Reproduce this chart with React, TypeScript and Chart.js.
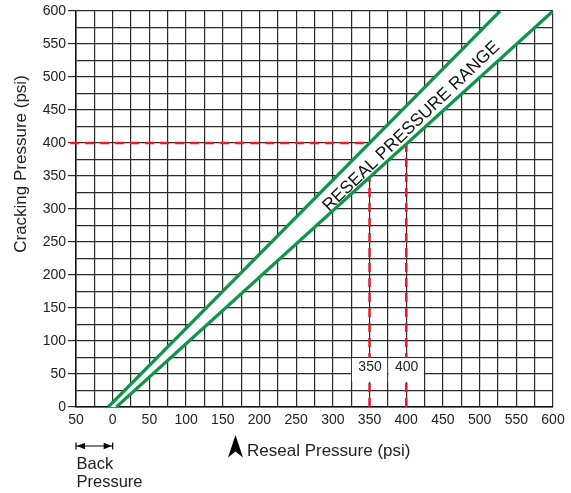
import React, { useEffect, useRef } from "react";
import { Chart, registerables } from "chart.js";

Chart.register(...registerables);

// ---- data ----
const xRange = [-50, 600];
const yRange = [0, 600];
const gridStep = 25;
const labelStep = 50;
// green boundary lines of the reseal pressure range (reseal psi, cracking psi)
const upperBoundX = [-6, 528];
const upperBoundY = [0, 600];
const lowerBoundX = [5, 600];
const lowerBoundY = [0, 600];
// example read-off: cracking 400 psi -> reseal 350..400 psi
const exampleCracking = 400;
const exampleReseal = [350, 400];
const exampleLabelY = 61;
const horizStartX = -58;
const vertEndY = -6;

const FONT = "'Liberation Sans', Arial, Helvetica, sans-serif";
const GREEN = "#109447";
const RED = "#e8192c";
const GRID = "#2a2a2a";

const annotations = {
  id: "annotations",
  afterDatasetsDraw(chart: any) {
    const { ctx, scales, chartArea } = chart;
    const x = scales.x, y = scales.y;
    ctx.save();
    // label boxes 350 / 400
    ctx.font = `14px ${FONT}`;
    ctx.textAlign = "center";
    ctx.textBaseline = "middle";
    exampleReseal.forEach((v) => {
      const l = x.getPixelForValue(v - 24);
      const r = x.getPixelForValue(v + 24);
      const top = y.getPixelForValue(74);
      const bot = y.getPixelForValue(38);
      ctx.fillStyle = "#fff";
      ctx.fillRect(l, top, r - l, bot - top);
      ctx.fillStyle = "#222";
      ctx.fillText(String(v), x.getPixelForValue(v) + 0.5, y.getPixelForValue(exampleLabelY));
    });

    // band text
    const ax = x.getPixelForValue(upperBoundX[0]), ay = y.getPixelForValue(upperBoundY[0]);
    const bx = x.getPixelForValue(upperBoundX[1]), by = y.getPixelForValue(upperBoundY[1]);
    const cx2 = x.getPixelForValue(lowerBoundX[0]), cy2 = y.getPixelForValue(lowerBoundY[0]);
    const dx2 = x.getPixelForValue(lowerBoundX[1]), dy2 = y.getPixelForValue(lowerBoundY[1]);
    const ang = (Math.atan2(by - ay, bx - ax) + Math.atan2(dy2 - cy2, dx2 - cx2)) / 2;
    ctx.save();
    ctx.translate(x.getPixelForValue(406), y.getPixelForValue(426));
    ctx.rotate(ang);
    ctx.font = `17.5px ${FONT}`;
    ctx.fillStyle = "#111";
    ctx.textAlign = "center";
    ctx.textBaseline = "middle";
    ctx.fillText("RESEAL PRESSURE RANGE", 0, 1);
    ctx.restore();

    // y title
    ctx.save();
    ctx.translate(21, (chartArea.top + chartArea.bottom) / 2 - 45);
    ctx.rotate(-Math.PI / 2);
    ctx.font = `17px ${FONT}`;
    ctx.fillStyle = "#222";
    ctx.textAlign = "center";
    ctx.textBaseline = "middle";
    ctx.fillText("Cracking Pressure (psi)", 0, 0);
    ctx.restore();

    // x title with arrowhead
    const tx = 247, base = 456;
    ctx.fillStyle = "#000";
    ctx.beginPath();
    ctx.moveTo(235.5, 435);
    ctx.lineTo(243, 457.5);
    ctx.lineTo(235.5, 451.5);
    ctx.lineTo(228, 457.5);
    ctx.closePath();
    ctx.fill();
    ctx.font = `17px ${FONT}`;
    ctx.fillStyle = "#222";
    ctx.textAlign = "left";
    ctx.textBaseline = "alphabetic";
    ctx.fillText("Reseal Pressure (psi)", tx, base);

    // back pressure indicator
    const l = x.getPixelForValue(-50), r = x.getPixelForValue(0), ya = 446;
    ctx.strokeStyle = "#000";
    ctx.lineWidth = 1.2;
    ctx.beginPath();
    ctx.moveTo(l, ya); ctx.lineTo(r, ya);
    ctx.moveTo(l, ya - 3.5); ctx.lineTo(l, ya + 3.5);
    ctx.moveTo(r, ya - 3.5); ctx.lineTo(r, ya + 3.5);
    ctx.stroke();
    ctx.fillStyle = "#000";
    ctx.beginPath();
    ctx.moveTo(l + 1, ya); ctx.lineTo(l + 9, ya - 3.2); ctx.lineTo(l + 9, ya + 3.2); ctx.closePath();
    ctx.moveTo(r - 1, ya); ctx.lineTo(r - 9, ya - 3.2); ctx.lineTo(r - 9, ya + 3.2); ctx.closePath();
    ctx.fill();
    ctx.font = `16.5px ${FONT}`;
    ctx.fillStyle = "#222";
    ctx.fillText("Back", l + 0.5, 468.5);
    ctx.fillText("Pressure", l + 0.5, 487);
    ctx.restore();
  },
};

export default function App() {
  const ref = useRef<HTMLCanvasElement>(null);
  useEffect(() => {
    if (!ref.current) return;
    const pts = (xs: number[], ys: number[]) => xs.map((v, i) => ({ x: v, y: ys[i] }));
    const chart = new Chart(ref.current, {
      type: "line",
      data: {
        datasets: [
          {
            data: pts(upperBoundX, upperBoundY),
            borderColor: GREEN, borderWidth: 3.2, pointRadius: 0, order: 0, fill: false,
          },
          {
            data: pts(lowerBoundX, lowerBoundY),
            borderColor: GREEN, borderWidth: 3.2, pointRadius: 0, order: 0, fill: false,
          },
          {
            // white band between the two boundary lines
            data: [
              { x: upperBoundX[0], y: upperBoundY[0] },
              { x: upperBoundX[1], y: upperBoundY[1] },
              { x: lowerBoundX[1], y: lowerBoundY[1] },
              { x: lowerBoundX[0], y: lowerBoundY[0] },
            ],
            borderWidth: 0, borderColor: "rgba(0,0,0,0)", backgroundColor: "#ffffff",
            fill: "shape", pointRadius: 0, order: 1,
          },
          {
            data: [{ x: horizStartX, y: exampleCracking }, { x: exampleReseal[1], y: exampleCracking }],
            borderColor: RED, borderWidth: 2.5, borderDash: [9, 6], pointRadius: 0, clip: false, order: 2, fill: false,
          },
          ...exampleReseal.map((v) => ({
            data: [{ x: v, y: exampleCracking }, { x: v, y: vertEndY }],
            borderColor: RED, borderWidth: 2.5, borderDash: [9, 6], pointRadius: 0, clip: false, order: 2, fill: false,
          })),
        ] as any,
      },
      options: {
        animation: false,
        responsive: false,
        devicePixelRatio: 1,
        layout: { padding: { top: 11, right: 18, left: 0, bottom: 0 } },
        plugins: { legend: { display: false }, tooltip: { enabled: false } },
        scales: {
          x: {
            type: "linear",
            min: xRange[0],
            max: xRange[1],
            afterFit: (s: any) => { s.height = 86; },
            ticks: {
              stepSize: gridStep,
              autoSkip: false,
              maxRotation: 0,
              padding: 5,
              color: "#222",
              font: { family: FONT, size: 14 },
              callback: (v: any) => (Number(v) % labelStep === 0 ? String(Math.abs(Number(v))) : ""),
            },
            grid: { color: GRID, lineWidth: 1.2, drawTicks: false },
            border: { color: "#111", width: 1.5 },
          },
          y: {
            type: "linear",
            min: yRange[0],
            max: yRange[1],
            afterFit: (s: any) => { s.width = 76; },
            ticks: {
              stepSize: gridStep,
              autoSkip: false,
              padding: 2,
              color: "#222",
              font: { family: FONT, size: 14 },
              callback: (v: any) => (Number(v) % labelStep === 0 ? String(v) : ""),
            },
            grid: {
              color: GRID,
              lineWidth: 1.2,
              tickLength: 8,
              tickColor: (c: any) => (c.tick && c.tick.value % labelStep === 0 ? GRID : "rgba(0,0,0,0)"),
            },
            border: { color: "#111", width: 1.5 },
          },
        },
      } as any,
      plugins: [annotations],
    });
    return () => chart.destroy();
  }, []);
  return (
    <div style={{ position: "absolute", left: 0, top: 0, width: 571, height: 493, background: "#fff" }}>
      <canvas ref={ref} width={571} height={493} style={{ width: 571, height: 493, display: "block" }} />
    </div>
  );
}
